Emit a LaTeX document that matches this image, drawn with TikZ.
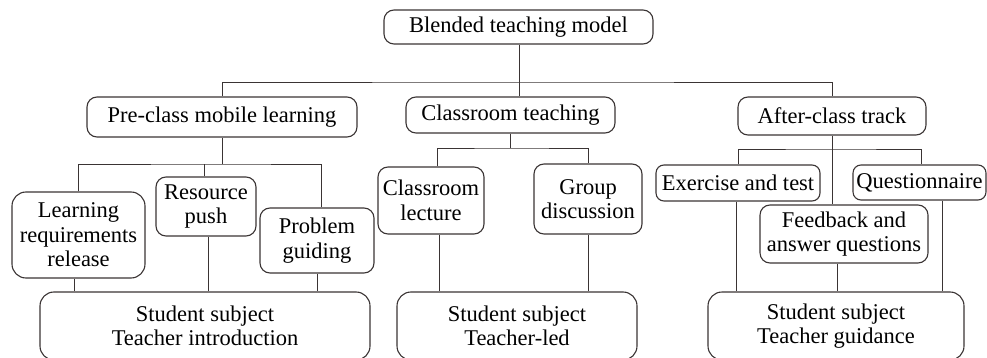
\documentclass[tikz,border=0pt]{standalone}
\usepackage{fontspec}
\setmainfont{Liberation Serif}
\usepackage{tikz}
\usetikzlibrary{calc}
\definecolor{inkline}{RGB}{58,52,52}
\tikzset{
	box/.style={draw=inkline, line width=1.1pt, rounded corners=10pt, inner sep=0pt, align=center, font=\fontsize{22.5}{24.5}\selectfont},
	bigbox/.style={box, rounded corners=14pt},
	link/.style={draw=inkline, line width=0.95pt}
}

\begin{document}
\begin{tikzpicture}[x=1pt,y=-1pt]
				\path[use as bounding box, clip] (0,0) rectangle (987,358);
				
				\node[box, minimum width=269, minimum height=34] (top) at (518.5,27) {Blended teaching model};
				
				\node[box, minimum width=270, minimum height=40] (pre) at (222,117) {Pre-class mobile learning};
				\node[box, minimum width=209, minimum height=36] (cls) at (510.5,115) {Classroom teaching};
				\node[box, minimum width=188, minimum height=38] (aft) at (832,116) {After-class track};
				
				\node[box, minimum width=133, minimum height=86, rounded corners=14pt] (learn) at (78.5,235) {Learning\\requirements\\release};
				\node[box, minimum width=100, minimum height=59] (res) at (206,206.5) {Resource\\push};
				\node[box, minimum width=114, minimum height=65] (prob) at (317,240.5) {Problem\\guiding};
				
				\node[box, minimum width=106, minimum height=67] (lect) at (431,200.5) {Classroom\\lecture};
				\node[box, minimum width=108, minimum height=70] (grp) at (588,199) {Group\\discussion};
				
				\node[box, minimum width=164, minimum height=36, rounded corners=8pt] (ex) at (738,183) {Exercise and test};
				\node[box, minimum width=133, minimum height=35, rounded corners=8pt] (que) at (919.5,182.5) {Questionnaire};
				\node[box, minimum width=168, minimum height=58] (fb) at (844,234) {Feedback and\\answer questions};
				
				\node[bigbox, minimum width=330, minimum height=68] (s1) at (205,326) {Student subject\\Teacher introduction};
				\node[bigbox, minimum width=240, minimum height=68] (s2) at (517,326) {Student subject\\Teacher-led};
				\node[bigbox, minimum width=256, minimum height=68] (s3) at (836,326) {Student subject\\Teacher guidance};
				
				\coordinate (b0) at (519,82);
				\coordinate (b1) at (222,164);
				\coordinate (b2) at (510.5,148);
				\coordinate (b3) at (832,149);
				
				\draw[link] (top.south -| b0) -- (b0);
				\draw[link] (pre.north) |- (b0) -| (aft.north);
				\draw[link] (b0) -- (b0 |- cls.north);
				
				\draw[link] (pre.south) -- (b1);
				\draw[link] (learn.north) |- (b1) -| ([xshift=4pt]prob.north);
				\draw[link] ([xshift=-2pt]res.north) -- ([xshift=-2pt]res.north |- b1);
				\draw[link] ([xshift=-4pt]learn.south) -- ([xshift=-4pt]learn.south |- s1.north);
				\draw[link] ([xshift=2pt]res.south) -- ([xshift=2pt]res.south |- s1.north);
				\draw[link] (prob.south) -- (prob.south |- s1.north);
				
				\draw[link] (cls.south) -- (b2);
				\draw[link] ([xshift=6pt]lect.north) |- (b2) -| (grp.north);
				\draw[link] ([xshift=8pt]lect.south) -- ([xshift=8pt]lect.south |- s2.north);
				\draw[link] (grp.south) -- (grp.south |- s2.north);
				
				\draw[link] (aft.south) -- (b3);
				\draw[link] (ex.north) |- (b3) -| ([xshift=1.5pt]que.north);
				\draw[link] (b3) -- (b3 |- fb.north);
				\draw[link] ([xshift=-2pt]ex.south) -- ([xshift=-2pt]ex.south |- s3.north);
				\draw[link] ([xshift=-7pt]fb.south) -- ([xshift=-7pt]fb.south |- s3.north);
				\draw[link] ([xshift=22.5pt]que.south) -- ([xshift=22.5pt]que.south |- s3.north);
			\end{tikzpicture}
\end{document}
